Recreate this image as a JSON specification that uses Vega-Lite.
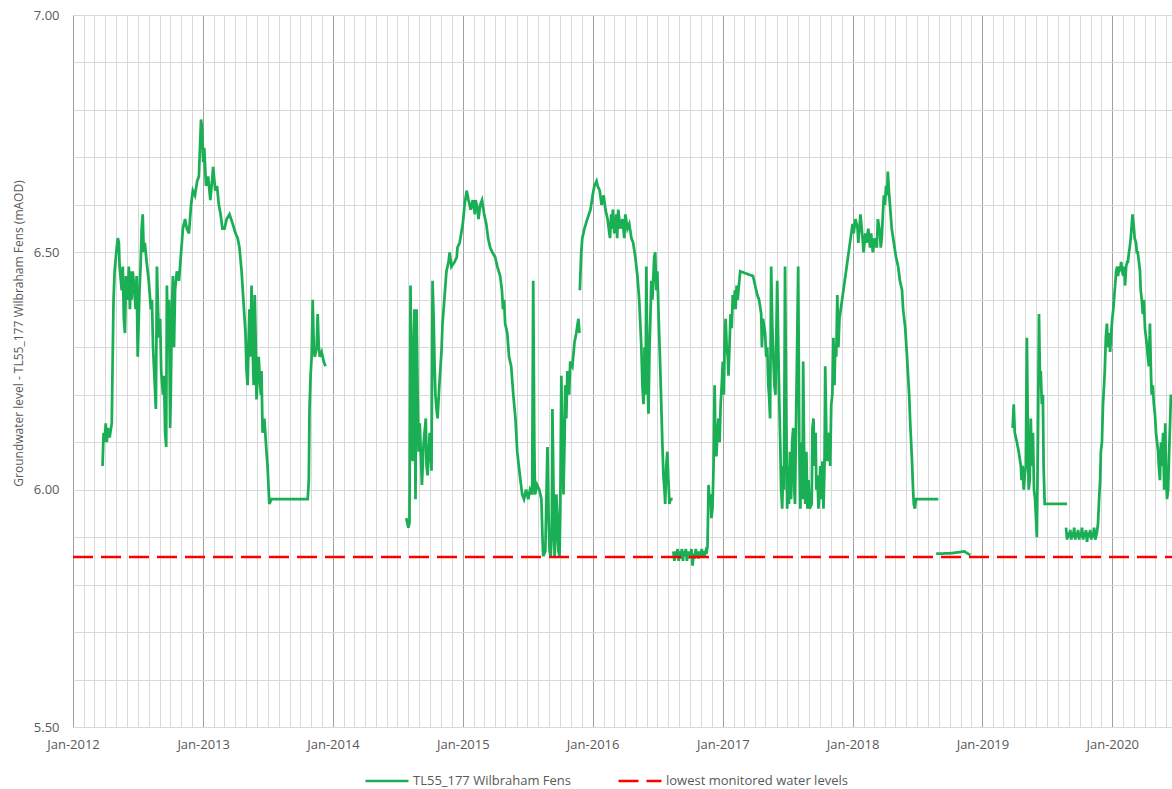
{
  "$schema": "https://vega.github.io/schema/vega-lite/v6.json",
  "width": 1099,
  "height": 712,
  "autosize": {"type": "none"},
  "padding": {"left": 73, "top": 15, "right": 0, "bottom": 62},
  "background": "white",
  "config": {
    "view": {"stroke": null},
    "font": "Open Sans",
    "axis": {"labelColor": "#595959", "titleColor": "#595959", "labelFont": "Open Sans", "titleFont": "Open Sans", "labelFontSize": 13}
  },
  "datasets": {
    "gw": [
      {"date":"2012-03-24","level":6.05,"seg":1},{"date":"2012-03-27","level":6.12,"seg":1},{"date":"2012-03-30","level":6.10,"seg":1},{"date":"2012-04-02","level":6.14,"seg":1},{"date":"2012-04-05","level":6.10,"seg":1},{"date":"2012-04-08","level":6.13,"seg":1},{"date":"2012-04-13","level":6.11,"seg":1},{"date":"2012-04-19","level":6.14,"seg":1},{"date":"2012-04-21","level":6.25,"seg":1},{"date":"2012-04-24","level":6.40,"seg":1},{"date":"2012-04-27","level":6.46,"seg":1},{"date":"2012-05-03","level":6.51,"seg":1},{"date":"2012-05-06","level":6.53,"seg":1},{"date":"2012-05-09","level":6.52,"seg":1},{"date":"2012-05-11","level":6.47,"seg":1},{"date":"2012-05-17","level":6.42,"seg":1},{"date":"2012-05-20","level":6.47,"seg":1},{"date":"2012-05-23","level":6.36,"seg":1},{"date":"2012-05-26","level":6.33,"seg":1},{"date":"2012-05-29","level":6.45,"seg":1},{"date":"2012-06-03","level":6.40,"seg":1},{"date":"2012-06-06","level":6.47,"seg":1},{"date":"2012-06-09","level":6.38,"seg":1},{"date":"2012-06-12","level":6.46,"seg":1},{"date":"2012-06-14","level":6.40,"seg":1},{"date":"2012-06-17","level":6.46,"seg":1},{"date":"2012-06-22","level":6.42,"seg":1},{"date":"2012-06-25","level":6.38,"seg":1},{"date":"2012-06-28","level":6.45,"seg":1},{"date":"2012-07-01","level":6.28,"seg":1},{"date":"2012-07-06","level":6.42,"seg":1},{"date":"2012-07-09","level":6.47,"seg":1},{"date":"2012-07-12","level":6.55,"seg":1},{"date":"2012-07-15","level":6.58,"seg":1},{"date":"2012-07-18","level":6.50,"seg":1},{"date":"2012-07-21","level":6.52,"seg":1},{"date":"2012-07-26","level":6.48,"seg":1},{"date":"2012-07-29","level":6.46,"seg":1},{"date":"2012-08-01","level":6.44,"seg":1},{"date":"2012-08-07","level":6.38,"seg":1},{"date":"2012-08-10","level":6.40,"seg":1},{"date":"2012-08-13","level":6.30,"seg":1},{"date":"2012-08-18","level":6.22,"seg":1},{"date":"2012-08-21","level":6.17,"seg":1},{"date":"2012-08-24","level":6.47,"seg":1},{"date":"2012-08-27","level":6.38,"seg":1},{"date":"2012-08-30","level":6.32,"seg":1},{"date":"2012-09-02","level":6.36,"seg":1},{"date":"2012-09-05","level":6.25,"seg":1},{"date":"2012-09-10","level":6.20,"seg":1},{"date":"2012-09-13","level":6.24,"seg":1},{"date":"2012-09-16","level":6.12,"seg":1},{"date":"2012-09-19","level":6.09,"seg":1},{"date":"2012-09-21","level":6.43,"seg":1},{"date":"2012-09-24","level":6.30,"seg":1},{"date":"2012-09-27","level":6.40,"seg":1},{"date":"2012-09-30","level":6.13,"seg":1},{"date":"2012-10-02","level":6.20,"seg":1},{"date":"2012-10-05","level":6.38,"seg":1},{"date":"2012-10-08","level":6.45,"seg":1},{"date":"2012-10-11","level":6.30,"seg":1},{"date":"2012-10-14","level":6.42,"seg":1},{"date":"2012-10-19","level":6.46,"seg":1},{"date":"2012-10-25","level":6.44,"seg":1},{"date":"2012-10-31","level":6.50,"seg":1},{"date":"2012-11-05","level":6.55,"seg":1},{"date":"2012-11-11","level":6.57,"seg":1},{"date":"2012-11-16","level":6.55,"seg":1},{"date":"2012-11-22","level":6.54,"seg":1},{"date":"2012-11-28","level":6.60,"seg":1},{"date":"2012-12-03","level":6.63,"seg":1},{"date":"2012-12-09","level":6.62,"seg":1},{"date":"2012-12-15","level":6.65,"seg":1},{"date":"2012-12-20","level":6.66,"seg":1},{"date":"2012-12-23","level":6.72,"seg":1},{"date":"2012-12-26","level":6.78,"seg":1},{"date":"2012-12-29","level":6.76,"seg":1},{"date":"2013-01-01","level":6.69,"seg":1},{"date":"2013-01-04","level":6.72,"seg":1},{"date":"2013-01-09","level":6.64,"seg":1},{"date":"2013-01-15","level":6.66,"seg":1},{"date":"2013-01-21","level":6.61,"seg":1},{"date":"2013-01-26","level":6.65,"seg":1},{"date":"2013-01-29","level":6.68,"seg":1},{"date":"2013-02-04","level":6.63,"seg":1},{"date":"2013-02-09","level":6.64,"seg":1},{"date":"2013-02-14","level":6.60,"seg":1},{"date":"2013-02-19","level":6.58,"seg":1},{"date":"2013-02-24","level":6.55,"seg":1},{"date":"2013-03-02","level":6.55,"seg":1},{"date":"2013-03-08","level":6.57,"seg":1},{"date":"2013-03-16","level":6.58,"seg":1},{"date":"2013-03-25","level":6.56,"seg":1},{"date":"2013-04-02","level":6.54,"seg":1},{"date":"2013-04-08","level":6.53,"seg":1},{"date":"2013-04-13","level":6.51,"seg":1},{"date":"2013-04-19","level":6.46,"seg":1},{"date":"2013-04-24","level":6.40,"seg":1},{"date":"2013-04-30","level":6.33,"seg":1},{"date":"2013-05-03","level":6.25,"seg":1},{"date":"2013-05-06","level":6.22,"seg":1},{"date":"2013-05-09","level":6.32,"seg":1},{"date":"2013-05-11","level":6.38,"seg":1},{"date":"2013-05-14","level":6.28,"seg":1},{"date":"2013-05-17","level":6.43,"seg":1},{"date":"2013-05-20","level":6.30,"seg":1},{"date":"2013-05-23","level":6.22,"seg":1},{"date":"2013-05-26","level":6.41,"seg":1},{"date":"2013-05-29","level":6.30,"seg":1},{"date":"2013-05-31","level":6.19,"seg":1},{"date":"2013-06-06","level":6.28,"seg":1},{"date":"2013-06-12","level":6.20,"seg":1},{"date":"2013-06-14","level":6.25,"seg":1},{"date":"2013-06-17","level":6.12,"seg":1},{"date":"2013-06-22","level":6.15,"seg":1},{"date":"2013-06-28","level":6.08,"seg":1},{"date":"2013-07-01","level":6.05,"seg":1},{"date":"2013-07-06","level":5.97,"seg":1},{"date":"2013-07-12","level":5.98,"seg":1},{"date":"2013-07-18","level":5.98,"seg":1},{"date":"2013-10-22","level":5.98,"seg":1},{"date":"2013-10-25","level":6.02,"seg":1},{"date":"2013-10-27","level":6.17,"seg":1},{"date":"2013-10-30","level":6.24,"seg":1},{"date":"2013-11-02","level":6.28,"seg":1},{"date":"2013-11-05","level":6.40,"seg":1},{"date":"2013-11-08","level":6.30,"seg":1},{"date":"2013-11-11","level":6.28,"seg":1},{"date":"2013-11-16","level":6.30,"seg":1},{"date":"2013-11-19","level":6.37,"seg":1},{"date":"2013-11-22","level":6.30,"seg":1},{"date":"2013-11-25","level":6.28,"seg":1},{"date":"2013-11-30","level":6.29,"seg":1},{"date":"2013-12-06","level":6.27,"seg":1},{"date":"2013-12-11","level":6.26,"seg":1},
      {"date":"2014-07-26","level":5.94,"seg":2},{"date":"2014-08-01","level":5.92,"seg":2},{"date":"2014-08-04","level":5.93,"seg":2},{"date":"2014-08-07","level":6.43,"seg":2},{"date":"2014-08-10","level":6.10,"seg":2},{"date":"2014-08-13","level":6.06,"seg":2},{"date":"2014-08-15","level":6.30,"seg":2},{"date":"2014-08-18","level":6.38,"seg":2},{"date":"2014-08-21","level":5.98,"seg":2},{"date":"2014-08-24","level":6.38,"seg":2},{"date":"2014-08-27","level":6.20,"seg":2},{"date":"2014-08-30","level":6.08,"seg":2},{"date":"2014-09-02","level":6.14,"seg":2},{"date":"2014-09-08","level":6.01,"seg":2},{"date":"2014-09-13","level":6.10,"seg":2},{"date":"2014-09-19","level":6.15,"seg":2},{"date":"2014-09-21","level":6.05,"seg":2},{"date":"2014-09-24","level":6.03,"seg":2},{"date":"2014-09-30","level":6.12,"seg":2},{"date":"2014-10-02","level":6.10,"seg":2},{"date":"2014-10-05","level":6.04,"seg":2},{"date":"2014-10-08","level":6.44,"seg":2},{"date":"2014-10-11","level":6.36,"seg":2},{"date":"2014-10-14","level":6.25,"seg":2},{"date":"2014-10-16","level":6.20,"seg":2},{"date":"2014-10-19","level":6.17,"seg":2},{"date":"2014-10-22","level":6.15,"seg":2},{"date":"2014-10-27","level":6.22,"seg":2},{"date":"2014-11-02","level":6.29,"seg":2},{"date":"2014-11-05","level":6.35,"seg":2},{"date":"2014-11-11","level":6.41,"seg":2},{"date":"2014-11-16","level":6.46,"seg":2},{"date":"2014-11-22","level":6.48,"seg":2},{"date":"2014-11-25","level":6.50,"seg":2},{"date":"2014-11-30","level":6.47,"seg":2},{"date":"2014-12-09","level":6.48,"seg":2},{"date":"2014-12-15","level":6.49,"seg":2},{"date":"2014-12-17","level":6.51,"seg":2},{"date":"2014-12-23","level":6.52,"seg":2},{"date":"2015-01-01","level":6.56,"seg":2},{"date":"2015-01-06","level":6.60,"seg":2},{"date":"2015-01-12","level":6.63,"seg":2},{"date":"2015-01-17","level":6.61,"seg":2},{"date":"2015-01-23","level":6.59,"seg":2},{"date":"2015-01-29","level":6.61,"seg":2},{"date":"2015-02-04","level":6.58,"seg":2},{"date":"2015-02-06","level":6.61,"seg":2},{"date":"2015-02-12","level":6.59,"seg":2},{"date":"2015-02-14","level":6.57,"seg":2},{"date":"2015-02-19","level":6.60,"seg":2},{"date":"2015-02-24","level":6.61,"seg":2},{"date":"2015-03-02","level":6.58,"seg":2},{"date":"2015-03-08","level":6.56,"seg":2},{"date":"2015-03-13","level":6.53,"seg":2},{"date":"2015-03-19","level":6.51,"seg":2},{"date":"2015-03-25","level":6.50,"seg":2},{"date":"2015-04-02","level":6.49,"seg":2},{"date":"2015-04-08","level":6.47,"seg":2},{"date":"2015-04-16","level":6.45,"seg":2},{"date":"2015-04-21","level":6.42,"seg":2},{"date":"2015-04-24","level":6.38,"seg":2},{"date":"2015-04-27","level":6.40,"seg":2},{"date":"2015-04-30","level":6.35,"seg":2},{"date":"2015-05-06","level":6.33,"seg":2},{"date":"2015-05-11","level":6.28,"seg":2},{"date":"2015-05-17","level":6.26,"seg":2},{"date":"2015-05-23","level":6.20,"seg":2},{"date":"2015-05-29","level":6.15,"seg":2},{"date":"2015-06-03","level":6.08,"seg":2},{"date":"2015-06-06","level":6.06,"seg":2},{"date":"2015-06-12","level":6.02,"seg":2},{"date":"2015-06-17","level":5.99,"seg":2},{"date":"2015-06-22","level":5.98,"seg":2},{"date":"2015-06-28","level":6.00,"seg":2},{"date":"2015-07-04","level":5.98,"seg":2},{"date":"2015-07-09","level":6.00,"seg":2},{"date":"2015-07-15","level":5.99,"seg":2},{"date":"2015-07-18","level":6.44,"seg":2},{"date":"2015-07-21","level":6.10,"seg":2},{"date":"2015-07-23","level":5.99,"seg":2},{"date":"2015-07-29","level":6.01,"seg":2},{"date":"2015-08-04","level":6.00,"seg":2},{"date":"2015-08-10","level":5.98,"seg":2},{"date":"2015-08-13","level":5.90,"seg":2},{"date":"2015-08-15","level":5.86,"seg":2},{"date":"2015-08-21","level":5.87,"seg":2},{"date":"2015-08-24","level":5.98,"seg":2},{"date":"2015-08-27","level":6.09,"seg":2},{"date":"2015-08-30","level":5.95,"seg":2},{"date":"2015-09-02","level":5.87,"seg":2},{"date":"2015-09-05","level":5.86,"seg":2},{"date":"2015-09-08","level":5.90,"seg":2},{"date":"2015-09-10","level":6.17,"seg":2},{"date":"2015-09-13","level":6.00,"seg":2},{"date":"2015-09-16","level":5.86,"seg":2},{"date":"2015-09-19","level":5.90,"seg":2},{"date":"2015-09-21","level":5.99,"seg":2},{"date":"2015-09-24","level":5.95,"seg":2},{"date":"2015-09-27","level":5.87,"seg":2},{"date":"2015-09-30","level":5.86,"seg":2},{"date":"2015-10-02","level":5.95,"seg":2},{"date":"2015-10-05","level":6.24,"seg":2},{"date":"2015-10-08","level":6.10,"seg":2},{"date":"2015-10-11","level":5.99,"seg":2},{"date":"2015-10-14","level":6.10,"seg":2},{"date":"2015-10-16","level":6.22,"seg":2},{"date":"2015-10-19","level":6.15,"seg":2},{"date":"2015-10-22","level":6.25,"seg":2},{"date":"2015-10-27","level":6.20,"seg":2},{"date":"2015-10-30","level":6.27,"seg":2},{"date":"2015-11-05","level":6.26,"seg":2},{"date":"2015-11-11","level":6.31,"seg":2},{"date":"2015-11-16","level":6.33,"seg":2},{"date":"2015-11-22","level":6.36,"seg":2},{"date":"2015-11-25","level":6.33,"seg":2},
      {"date":"2015-11-26","level":6.42,"seg":3},{"date":"2015-11-28","level":6.46,"seg":3},{"date":"2015-11-30","level":6.50,"seg":3},{"date":"2015-12-03","level":6.53,"seg":3},{"date":"2015-12-09","level":6.55,"seg":3},{"date":"2015-12-17","level":6.57,"seg":3},{"date":"2015-12-26","level":6.59,"seg":3},{"date":"2016-01-01","level":6.62,"seg":3},{"date":"2016-01-06","level":6.64,"seg":3},{"date":"2016-01-12","level":6.65,"seg":3},{"date":"2016-01-15","level":6.64,"seg":3},{"date":"2016-01-21","level":6.63,"seg":3},{"date":"2016-01-26","level":6.60,"seg":3},{"date":"2016-02-01","level":6.62,"seg":3},{"date":"2016-02-06","level":6.59,"seg":3},{"date":"2016-02-12","level":6.57,"seg":3},{"date":"2016-02-17","level":6.54,"seg":3},{"date":"2016-02-19","level":6.53,"seg":3},{"date":"2016-02-22","level":6.58,"seg":3},{"date":"2016-02-24","level":6.55,"seg":3},{"date":"2016-02-27","level":6.59,"seg":3},{"date":"2016-03-02","level":6.54,"seg":3},{"date":"2016-03-08","level":6.58,"seg":3},{"date":"2016-03-10","level":6.53,"seg":3},{"date":"2016-03-13","level":6.59,"seg":3},{"date":"2016-03-19","level":6.55,"seg":3},{"date":"2016-03-25","level":6.57,"seg":3},{"date":"2016-03-30","level":6.53,"seg":3},{"date":"2016-04-02","level":6.58,"seg":3},{"date":"2016-04-08","level":6.55,"seg":3},{"date":"2016-04-13","level":6.56,"seg":3},{"date":"2016-04-19","level":6.53,"seg":3},{"date":"2016-04-24","level":6.52,"seg":3},{"date":"2016-04-30","level":6.49,"seg":3},{"date":"2016-05-06","level":6.45,"seg":3},{"date":"2016-05-11","level":6.40,"seg":3},{"date":"2016-05-17","level":6.30,"seg":3},{"date":"2016-05-20","level":6.22,"seg":3},{"date":"2016-05-23","level":6.18,"seg":3},{"date":"2016-05-26","level":6.30,"seg":3},{"date":"2016-05-29","level":6.20,"seg":3},{"date":"2016-05-31","level":6.47,"seg":3},{"date":"2016-06-03","level":6.25,"seg":3},{"date":"2016-06-06","level":6.16,"seg":3},{"date":"2016-06-09","level":6.30,"seg":3},{"date":"2016-06-12","level":6.38,"seg":3},{"date":"2016-06-14","level":6.44,"seg":3},{"date":"2016-06-17","level":6.40,"seg":3},{"date":"2016-06-20","level":6.45,"seg":3},{"date":"2016-06-22","level":6.49,"seg":3},{"date":"2016-06-25","level":6.50,"seg":3},{"date":"2016-06-28","level":6.42,"seg":3},{"date":"2016-07-01","level":6.46,"seg":3},{"date":"2016-07-04","level":6.38,"seg":3},{"date":"2016-07-06","level":6.33,"seg":3},{"date":"2016-07-09","level":6.26,"seg":3},{"date":"2016-07-12","level":6.18,"seg":3},{"date":"2016-07-15","level":6.10,"seg":3},{"date":"2016-07-18","level":6.03,"seg":3},{"date":"2016-07-21","level":6.00,"seg":3},{"date":"2016-07-23","level":5.97,"seg":3},{"date":"2016-07-26","level":6.05,"seg":3},{"date":"2016-07-29","level":6.08,"seg":3},{"date":"2016-08-01","level":6.02,"seg":3},{"date":"2016-08-04","level":5.97,"seg":3},{"date":"2016-08-07","level":5.98,"seg":3},{"date":"2016-08-13","level":5.98,"seg":3},
      {"date":"2016-08-15","level":5.87,"seg":4},{"date":"2016-08-18","level":5.85,"seg":4},{"date":"2016-08-21","level":5.87,"seg":4},{"date":"2016-08-24","level":5.86,"seg":4},{"date":"2016-08-27","level":5.875,"seg":4},{"date":"2016-08-30","level":5.85,"seg":4},{"date":"2016-09-02","level":5.87,"seg":4},{"date":"2016-09-05","level":5.855,"seg":4},{"date":"2016-09-08","level":5.875,"seg":4},{"date":"2016-09-11","level":5.85,"seg":4},{"date":"2016-09-13","level":5.87,"seg":4},{"date":"2016-09-16","level":5.86,"seg":4},{"date":"2016-09-19","level":5.875,"seg":4},{"date":"2016-09-22","level":5.85,"seg":4},{"date":"2016-09-24","level":5.87,"seg":4},{"date":"2016-09-27","level":5.855,"seg":4},{"date":"2016-09-30","level":5.87,"seg":4},{"date":"2016-10-03","level":5.86,"seg":4},{"date":"2016-10-05","level":5.875,"seg":4},{"date":"2016-10-08","level":5.84,"seg":4},{"date":"2016-10-11","level":5.865,"seg":4},{"date":"2016-10-14","level":5.855,"seg":4},{"date":"2016-10-17","level":5.875,"seg":4},{"date":"2016-10-19","level":5.86,"seg":4},{"date":"2016-10-22","level":5.87,"seg":4},{"date":"2016-10-25","level":5.855,"seg":4},{"date":"2016-10-28","level":5.87,"seg":4},{"date":"2016-10-31","level":5.86,"seg":4},{"date":"2016-11-03","level":5.875,"seg":4},{"date":"2016-11-05","level":5.86,"seg":4},{"date":"2016-11-08","level":5.87,"seg":4},{"date":"2016-11-11","level":5.86,"seg":4},{"date":"2016-11-14","level":5.87,"seg":4},{"date":"2016-11-16","level":5.865,"seg":4},{"date":"2016-11-19","level":5.88,"seg":4},{"date":"2016-11-22","level":6.01,"seg":4},{"date":"2016-11-25","level":5.97,"seg":4},{"date":"2016-11-28","level":5.99,"seg":4},{"date":"2016-11-30","level":5.94,"seg":4},{"date":"2016-12-03","level":5.96,"seg":4},{"date":"2016-12-06","level":6.05,"seg":4},{"date":"2016-12-09","level":6.22,"seg":4},{"date":"2016-12-11","level":6.12,"seg":4},{"date":"2016-12-14","level":6.07,"seg":4},{"date":"2016-12-17","level":6.12,"seg":4},{"date":"2016-12-20","level":6.15,"seg":4},{"date":"2016-12-23","level":6.10,"seg":4},{"date":"2016-12-26","level":6.18,"seg":4},{"date":"2016-12-29","level":6.22,"seg":4},{"date":"2017-01-01","level":6.27,"seg":4},{"date":"2017-01-04","level":6.20,"seg":4},{"date":"2017-01-06","level":6.30,"seg":4},{"date":"2017-01-09","level":6.36,"seg":4},{"date":"2017-01-12","level":6.30,"seg":4},{"date":"2017-01-15","level":6.28,"seg":4},{"date":"2017-01-17","level":6.24,"seg":4},{"date":"2017-01-21","level":6.33,"seg":4},{"date":"2017-01-23","level":6.37,"seg":4},{"date":"2017-01-26","level":6.34,"seg":4},{"date":"2017-01-29","level":6.41,"seg":4},{"date":"2017-02-01","level":6.38,"seg":4},{"date":"2017-02-04","level":6.42,"seg":4},{"date":"2017-02-06","level":6.38,"seg":4},{"date":"2017-02-09","level":6.43,"seg":4},{"date":"2017-02-12","level":6.40,"seg":4},{"date":"2017-02-14","level":6.42,"seg":4},{"date":"2017-02-19","level":6.46,"seg":4},{"date":"2017-03-27","level":6.45,"seg":4},{"date":"2017-04-02","level":6.43,"seg":4},{"date":"2017-04-08","level":6.41,"seg":4},{"date":"2017-04-13","level":6.40,"seg":4},{"date":"2017-04-19","level":6.37,"seg":4},{"date":"2017-04-21","level":6.30,"seg":4},{"date":"2017-04-24","level":6.36,"seg":4},{"date":"2017-04-30","level":6.33,"seg":4},{"date":"2017-05-03","level":6.28,"seg":4},{"date":"2017-05-06","level":6.30,"seg":4},{"date":"2017-05-09","level":6.22,"seg":4},{"date":"2017-05-11","level":6.20,"seg":4},{"date":"2017-05-14","level":6.15,"seg":4},{"date":"2017-05-17","level":6.47,"seg":4},{"date":"2017-05-20","level":6.35,"seg":4},{"date":"2017-05-23","level":6.28,"seg":4},{"date":"2017-05-26","level":6.22,"seg":4},{"date":"2017-05-29","level":6.20,"seg":4},{"date":"2017-05-31","level":6.30,"seg":4},{"date":"2017-06-03","level":6.44,"seg":4},{"date":"2017-06-06","level":6.30,"seg":4},{"date":"2017-06-09","level":6.18,"seg":4},{"date":"2017-06-12","level":6.08,"seg":4},{"date":"2017-06-14","level":6.00,"seg":4},{"date":"2017-06-17","level":5.96,"seg":4},{"date":"2017-06-20","level":6.05,"seg":4},{"date":"2017-06-22","level":6.00,"seg":4},{"date":"2017-06-25","level":6.47,"seg":4},{"date":"2017-06-28","level":6.20,"seg":4},{"date":"2017-07-01","level":5.96,"seg":4},{"date":"2017-07-04","level":6.05,"seg":4},{"date":"2017-07-06","level":5.97,"seg":4},{"date":"2017-07-09","level":6.08,"seg":4},{"date":"2017-07-12","level":5.98,"seg":4},{"date":"2017-07-15","level":6.10,"seg":4},{"date":"2017-07-18","level":6.13,"seg":4},{"date":"2017-07-21","level":6.00,"seg":4},{"date":"2017-07-23","level":5.97,"seg":4},{"date":"2017-07-26","level":6.15,"seg":4},{"date":"2017-07-29","level":6.30,"seg":4},{"date":"2017-08-01","level":6.47,"seg":4},{"date":"2017-08-04","level":6.10,"seg":4},{"date":"2017-08-07","level":5.96,"seg":4},{"date":"2017-08-10","level":6.10,"seg":4},{"date":"2017-08-13","level":5.98,"seg":4},{"date":"2017-08-15","level":6.27,"seg":4},{"date":"2017-08-18","level":6.05,"seg":4},{"date":"2017-08-21","level":5.97,"seg":4},{"date":"2017-08-24","level":6.08,"seg":4},{"date":"2017-08-27","level":5.96,"seg":4},{"date":"2017-08-30","level":6.02,"seg":4},{"date":"2017-09-02","level":5.96,"seg":4},{"date":"2017-09-08","level":5.97,"seg":4},{"date":"2017-09-10","level":6.13,"seg":4},{"date":"2017-09-13","level":6.15,"seg":4},{"date":"2017-09-16","level":6.05,"seg":4},{"date":"2017-09-19","level":6.12,"seg":4},{"date":"2017-09-21","level":6.00,"seg":4},{"date":"2017-09-24","level":6.03,"seg":4},{"date":"2017-09-27","level":5.96,"seg":4},{"date":"2017-09-30","level":6.00,"seg":4},{"date":"2017-10-02","level":6.05,"seg":4},{"date":"2017-10-05","level":5.98,"seg":4},{"date":"2017-10-08","level":6.06,"seg":4},{"date":"2017-10-11","level":5.96,"seg":4},{"date":"2017-10-14","level":6.05,"seg":4},{"date":"2017-10-16","level":6.26,"seg":4},{"date":"2017-10-19","level":6.12,"seg":4},{"date":"2017-10-22","level":6.06,"seg":4},{"date":"2017-10-25","level":6.10,"seg":4},{"date":"2017-10-27","level":6.12,"seg":4},{"date":"2017-10-30","level":6.05,"seg":4},{"date":"2017-11-02","level":6.18,"seg":4},{"date":"2017-11-05","level":6.20,"seg":4},{"date":"2017-11-08","level":6.32,"seg":4},{"date":"2017-11-11","level":6.22,"seg":4},{"date":"2017-11-13","level":6.30,"seg":4},{"date":"2017-11-16","level":6.28,"seg":4},{"date":"2017-11-19","level":6.41,"seg":4},{"date":"2017-11-22","level":6.30,"seg":4},{"date":"2017-11-25","level":6.36,"seg":4},{"date":"2018-01-01","level":6.56,"seg":4},{"date":"2018-01-04","level":6.54,"seg":4},{"date":"2018-01-09","level":6.57,"seg":4},{"date":"2018-01-15","level":6.55,"seg":4},{"date":"2018-01-17","level":6.52,"seg":4},{"date":"2018-01-23","level":6.58,"seg":4},{"date":"2018-01-29","level":6.53,"seg":4},{"date":"2018-02-01","level":6.50,"seg":4},{"date":"2018-02-06","level":6.54,"seg":4},{"date":"2018-02-09","level":6.52,"seg":4},{"date":"2018-02-14","level":6.55,"seg":4},{"date":"2018-02-19","level":6.51,"seg":4},{"date":"2018-02-22","level":6.54,"seg":4},{"date":"2018-02-27","level":6.50,"seg":4},{"date":"2018-03-04","level":6.53,"seg":4},{"date":"2018-03-10","level":6.51,"seg":4},{"date":"2018-03-13","level":6.57,"seg":4},{"date":"2018-03-19","level":6.54,"seg":4},{"date":"2018-03-21","level":6.51,"seg":4},{"date":"2018-03-24","level":6.53,"seg":4},{"date":"2018-03-27","level":6.58,"seg":4},{"date":"2018-03-30","level":6.62,"seg":4},{"date":"2018-04-02","level":6.60,"seg":4},{"date":"2018-04-05","level":6.64,"seg":4},{"date":"2018-04-08","level":6.62,"seg":4},{"date":"2018-04-10","level":6.67,"seg":4},{"date":"2018-04-13","level":6.63,"seg":4},{"date":"2018-04-16","level":6.60,"seg":4},{"date":"2018-04-19","level":6.57,"seg":4},{"date":"2018-04-21","level":6.55,"seg":4},{"date":"2018-04-27","level":6.52,"seg":4},{"date":"2018-05-03","level":6.49,"seg":4},{"date":"2018-05-09","level":6.47,"seg":4},{"date":"2018-05-14","level":6.44,"seg":4},{"date":"2018-05-20","level":6.42,"seg":4},{"date":"2018-05-23","level":6.38,"seg":4},{"date":"2018-05-29","level":6.34,"seg":4},{"date":"2018-06-03","level":6.28,"seg":4},{"date":"2018-06-09","level":6.20,"seg":4},{"date":"2018-06-12","level":6.14,"seg":4},{"date":"2018-06-17","level":6.06,"seg":4},{"date":"2018-06-20","level":6.00,"seg":4},{"date":"2018-06-22","level":5.97,"seg":4},{"date":"2018-06-25","level":5.96,"seg":4},{"date":"2018-06-28","level":5.98,"seg":4},{"date":"2018-08-30","level":5.98,"seg":4},
      {"date":"2018-08-24","level":5.865,"seg":5},{"date":"2018-10-02","level":5.866,"seg":5},{"date":"2018-10-25","level":5.868,"seg":5},{"date":"2018-11-11","level":5.870,"seg":5},{"date":"2018-11-28","level":5.862,"seg":5},
      {"date":"2019-03-27","level":6.13,"seg":6},{"date":"2019-03-30","level":6.18,"seg":6},{"date":"2019-04-02","level":6.12,"seg":6},{"date":"2019-04-08","level":6.10,"seg":6},{"date":"2019-04-13","level":6.08,"seg":6},{"date":"2019-04-19","level":6.05,"seg":6},{"date":"2019-04-21","level":6.02,"seg":6},{"date":"2019-04-24","level":6.05,"seg":6},{"date":"2019-04-27","level":6.00,"seg":6},{"date":"2019-04-30","level":6.03,"seg":6},{"date":"2019-05-03","level":6.05,"seg":6},{"date":"2019-05-06","level":6.32,"seg":6},{"date":"2019-05-09","level":6.10,"seg":6},{"date":"2019-05-11","level":6.00,"seg":6},{"date":"2019-05-14","level":6.02,"seg":6},{"date":"2019-05-17","level":6.15,"seg":6},{"date":"2019-05-20","level":6.05,"seg":6},{"date":"2019-05-23","level":6.12,"seg":6},{"date":"2019-05-26","level":6.00,"seg":6},{"date":"2019-05-29","level":5.98,"seg":6},{"date":"2019-05-31","level":5.95,"seg":6},{"date":"2019-06-03","level":5.90,"seg":6},{"date":"2019-06-06","level":6.10,"seg":6},{"date":"2019-06-09","level":6.37,"seg":6},{"date":"2019-06-12","level":6.22,"seg":6},{"date":"2019-06-14","level":6.25,"seg":6},{"date":"2019-06-17","level":6.18,"seg":6},{"date":"2019-06-20","level":6.20,"seg":6},{"date":"2019-06-22","level":6.05,"seg":6},{"date":"2019-06-25","level":5.97,"seg":6},{"date":"2019-06-28","level":5.97,"seg":6},{"date":"2019-08-27","level":5.97,"seg":6},
      {"date":"2019-08-24","level":5.92,"seg":7},{"date":"2019-08-27","level":5.895,"seg":7},{"date":"2019-08-30","level":5.91,"seg":7},{"date":"2019-09-02","level":5.90,"seg":7},{"date":"2019-09-05","level":5.915,"seg":7},{"date":"2019-09-08","level":5.895,"seg":7},{"date":"2019-09-10","level":5.91,"seg":7},{"date":"2019-09-13","level":5.90,"seg":7},{"date":"2019-09-16","level":5.92,"seg":7},{"date":"2019-09-19","level":5.895,"seg":7},{"date":"2019-09-21","level":5.91,"seg":7},{"date":"2019-09-24","level":5.90,"seg":7},{"date":"2019-09-27","level":5.915,"seg":7},{"date":"2019-09-30","level":5.895,"seg":7},{"date":"2019-10-02","level":5.91,"seg":7},{"date":"2019-10-05","level":5.90,"seg":7},{"date":"2019-10-08","level":5.92,"seg":7},{"date":"2019-10-11","level":5.895,"seg":7},{"date":"2019-10-14","level":5.91,"seg":7},{"date":"2019-10-17","level":5.90,"seg":7},{"date":"2019-10-19","level":5.915,"seg":7},{"date":"2019-10-22","level":5.89,"seg":7},{"date":"2019-10-25","level":5.91,"seg":7},{"date":"2019-10-28","level":5.90,"seg":7},{"date":"2019-10-31","level":5.915,"seg":7},{"date":"2019-11-03","level":5.895,"seg":7},{"date":"2019-11-05","level":5.91,"seg":7},{"date":"2019-11-08","level":5.90,"seg":7},{"date":"2019-11-11","level":5.92,"seg":7},{"date":"2019-11-14","level":5.895,"seg":7},{"date":"2019-11-16","level":5.90,"seg":7},{"date":"2019-11-19","level":5.91,"seg":7},{"date":"2019-11-22","level":5.93,"seg":7},{"date":"2019-11-25","level":5.98,"seg":7},{"date":"2019-11-28","level":6.02,"seg":7},{"date":"2019-11-30","level":6.08,"seg":7},{"date":"2019-12-03","level":6.10,"seg":7},{"date":"2019-12-06","level":6.18,"seg":7},{"date":"2019-12-09","level":6.22,"seg":7},{"date":"2019-12-11","level":6.25,"seg":7},{"date":"2019-12-14","level":6.32,"seg":7},{"date":"2019-12-17","level":6.35,"seg":7},{"date":"2019-12-20","level":6.30,"seg":7},{"date":"2019-12-23","level":6.33,"seg":7},{"date":"2019-12-26","level":6.29,"seg":7},{"date":"2019-12-29","level":6.33,"seg":7},{"date":"2020-01-01","level":6.36,"seg":7},{"date":"2020-01-04","level":6.38,"seg":7},{"date":"2020-01-06","level":6.40,"seg":7},{"date":"2020-01-09","level":6.43,"seg":7},{"date":"2020-01-12","level":6.46,"seg":7},{"date":"2020-01-15","level":6.47,"seg":7},{"date":"2020-01-17","level":6.45,"seg":7},{"date":"2020-01-21","level":6.47,"seg":7},{"date":"2020-01-23","level":6.46,"seg":7},{"date":"2020-01-26","level":6.48,"seg":7},{"date":"2020-01-29","level":6.46,"seg":7},{"date":"2020-02-01","level":6.45,"seg":7},{"date":"2020-02-04","level":6.47,"seg":7},{"date":"2020-02-06","level":6.43,"seg":7},{"date":"2020-02-09","level":6.47,"seg":7},{"date":"2020-02-12","level":6.48,"seg":7},{"date":"2020-02-14","level":6.48,"seg":7},{"date":"2020-02-17","level":6.50,"seg":7},{"date":"2020-02-19","level":6.51,"seg":7},{"date":"2020-02-22","level":6.53,"seg":7},{"date":"2020-02-24","level":6.55,"seg":7},{"date":"2020-02-27","level":6.58,"seg":7},{"date":"2020-03-02","level":6.55,"seg":7},{"date":"2020-03-04","level":6.53,"seg":7},{"date":"2020-03-08","level":6.52,"seg":7},{"date":"2020-03-10","level":6.50,"seg":7},{"date":"2020-03-13","level":6.50,"seg":7},{"date":"2020-03-16","level":6.48,"seg":7},{"date":"2020-03-19","level":6.46,"seg":7},{"date":"2020-03-21","level":6.42,"seg":7},{"date":"2020-03-24","level":6.40,"seg":7},{"date":"2020-03-27","level":6.37,"seg":7},{"date":"2020-03-30","level":6.40,"seg":7},{"date":"2020-04-02","level":6.34,"seg":7},{"date":"2020-04-05","level":6.32,"seg":7},{"date":"2020-04-08","level":6.30,"seg":7},{"date":"2020-04-10","level":6.28,"seg":7},{"date":"2020-04-13","level":6.26,"seg":7},{"date":"2020-04-16","level":6.35,"seg":7},{"date":"2020-04-19","level":6.24,"seg":7},{"date":"2020-04-21","level":6.20,"seg":7},{"date":"2020-04-24","level":6.22,"seg":7},{"date":"2020-04-27","level":6.18,"seg":7},{"date":"2020-04-30","level":6.16,"seg":7},{"date":"2020-05-03","level":6.12,"seg":7},{"date":"2020-05-06","level":6.10,"seg":7},{"date":"2020-05-09","level":6.08,"seg":7},{"date":"2020-05-11","level":6.05,"seg":7},{"date":"2020-05-14","level":6.02,"seg":7},{"date":"2020-05-17","level":6.10,"seg":7},{"date":"2020-05-20","level":6.05,"seg":7},{"date":"2020-05-23","level":6.12,"seg":7},{"date":"2020-05-26","level":6.00,"seg":7},{"date":"2020-05-29","level":6.14,"seg":7},{"date":"2020-05-31","level":6.05,"seg":7},{"date":"2020-06-03","level":5.98,"seg":7},{"date":"2020-06-06","level":6.00,"seg":7},{"date":"2020-06-09","level":6.08,"seg":7},{"date":"2020-06-12","level":6.15,"seg":7},{"date":"2020-06-14","level":6.20,"seg":7},{"date":"2020-06-17","level":6.18,"seg":7}
    ],
    "low": [
      {"start": "2012-01-01", "end": "2020-06-17", "level": 5.858}
    ]
  },
  "layer": [
    {
      "data": {"name": "gw"},
      "mark": {"type": "line", "strokeWidth": 2.75, "clip": true},
      "encoding": {
        "x": {
          "field": "date", "type": "temporal",
          "scale": {"domain": ["2012-01-01", "2020-06-17"]},
          "axis": {"orient": "bottom", "labels": false, "ticks": false, "domain": false, "grid": true, "gridColor": "#d9d9d9", "gridWidth": 1, "tickCount": {"interval": "month", "step": 1}, "title": null}
        },
        "y": {
          "field": "level", "type": "quantitative",
          "scale": {"domain": [5.5, 7.0], "nice": false, "zero": false},
          "axis": {
            "values": [5.5, 5.6, 5.7, 5.8, 5.9, 6.0, 6.1, 6.2, 6.3, 6.4, 6.5, 6.6, 6.7, 6.8, 6.9, 7.0],
            "labelExpr": "abs(datum.value*2 - round(datum.value*2)) < 0.01 ? format(datum.value, '.2f') : ''",
            "grid": true, "gridColor": "#d9d9d9", "gridWidth": 1,
            "domain": false, "ticks": false, "labelPadding": 14, "labelOverlap": false, "labelFontSize": 13,
            "title": "Groundwater level - TL55_177 Wilbraham Fens (mAOD)",
            "titleFontSize": 12, "titleFontWeight": "normal",
            "titleX": -55, "titleY": 318, "titleAngle": 270, "titleAlign": "center", "titleBaseline": "middle"
          }
        },
        "detail": {"field": "seg", "type": "nominal"},
        "color": {
          "datum": "TL55_177 Wilbraham Fens", "type": "nominal",
          "scale": {"domain": ["TL55_177 Wilbraham Fens", "lowest monitored water levels"], "range": ["#1aaf54", "#ff0000"]},
          "legend": {"orient": "none", "legendX": 291, "legendY": 743, "direction": "horizontal", "title": null, "symbolType": "stroke", "symbolSize": 1850, "symbolStrokeWidth": 2.5, "labelFontSize": 13, "labelColor": "#595959", "labelFont": "Open Sans", "labelOffset": 3, "columnPadding": 41, "padding": 0, "labelLimit": 400}
        },
        "strokeDash": {
          "datum": "TL55_177 Wilbraham Fens", "type": "nominal",
          "scale": {"domain": ["TL55_177 Wilbraham Fens", "lowest monitored water levels"], "range": [[1, 0], [20, 8]]},
          "legend": {"orient": "none", "legendX": 291, "legendY": 743, "direction": "horizontal", "title": null, "symbolType": "stroke", "symbolSize": 1850, "symbolStrokeWidth": 2.5, "labelFontSize": 13, "labelColor": "#595959", "labelFont": "Open Sans", "labelOffset": 3, "columnPadding": 41, "padding": 0, "labelLimit": 400}
        }
      }
    },
    {
      "data": {"name": "low"},
      "mark": {"type": "rule", "strokeWidth": 2.5},
      "encoding": {
        "x": {
          "field": "start", "type": "temporal",
          "scale": {"domain": ["2012-01-01", "2020-06-17"]},
          "axis": {"orient": "bottom", "tickCount": {"interval": "year", "step": 1}, "format": "%b-%Y", "grid": true, "gridColor": "#a0a0a0", "gridWidth": 1, "domain": true, "domainColor": "#d9d9d9", "ticks": false, "labelPadding": 11, "labelFlush": false, "labelOverlap": false, "labelFontSize": 13, "title": null}
        },
        "x2": {"field": "end"},
        "y": {"field": "level", "type": "quantitative"},
        "color": {"datum": "lowest monitored water levels", "type": "nominal"},
        "strokeDash": {"datum": "lowest monitored water levels", "type": "nominal"}
      }
    }
  ],
  "resolve": {"axis": {"x": "independent"}}
}
